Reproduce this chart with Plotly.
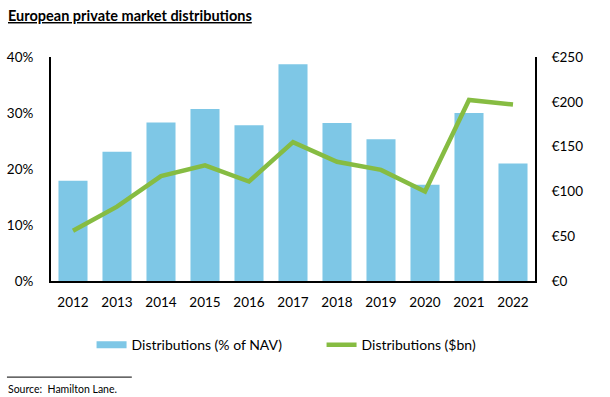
import plotly.graph_objects as go

years = ["2012", "2013", "2014", "2015", "2016", "2017", "2018", "2019", "2020", "2021", "2022"]
pct_nav = [17.9, 23.1, 28.3, 30.7, 27.8, 38.7, 28.2, 25.3, 17.2, 30.0, 21.0]
dist_bn = [56, 83, 117, 129, 111, 155, 133, 124, 100, 202, 197]

left_ticks = [0, 10, 20, 30, 40]
left_labels = ["0%", "10%", "20%", "30%", "40%"]
right_ticks = [0, 50, 100, 150, 200, 250]
right_labels = ["€0", "€50", "€100", "€150", "€200", "€250"]

FONT = "Lato, 'Open Sans', sans-serif"
BAR_COLOR = "#7EC7E6"
LINE_COLOR = "#86BC42"

fig = go.Figure()
fig.add_trace(go.Bar(
    x=years, y=pct_nav, name="Distributions (% of NAV)",
    marker=dict(color=BAR_COLOR, line=dict(width=0)),
    width=0.66, yaxis="y", showlegend=False,
))
# legend proxy with wide rectangular swatch for the bars
fig.add_trace(go.Scatter(
    x=[None], y=[None], name="Distributions (% of NAV)", mode="lines",
    line=dict(color=BAR_COLOR, width=7), yaxis="y", hoverinfo="skip",
))
fig.add_trace(go.Scatter(
    x=years, y=dist_bn, name="Distributions ($bn)", mode="lines",
    line=dict(color=LINE_COLOR, width=4.5), yaxis="y2",
))

fig.update_layout(
    width=610, height=397,
    paper_bgcolor="white", plot_bgcolor="white",
    margin=dict(l=51, r=75, t=57, b=116, autoexpand=False),
    font=dict(family=FONT, size=13, color="#000"),
    showlegend=True,
    legend=dict(orientation="h", x=0.559, xanchor="center", y=-0.215, yanchor="top",
                font=dict(size=14), itemwidth=30, traceorder="normal",
                entrywidth=185, entrywidthmode="pixels"),
    xaxis=dict(showline=True, linecolor="black", linewidth=2, ticks="", showgrid=False,
               tickfont=dict(size=13.5), ticklabelstandoff=8, automargin=False),
    yaxis=dict(range=[0, 40], tickvals=left_ticks, ticktext=left_labels, showgrid=False,
               showline=True, linecolor="black", linewidth=2, ticks="", zeroline=False,
               tickfont=dict(size=13.5), ticklabelstandoff=13, automargin=False),
    yaxis2=dict(range=[0, 250], tickvals=right_ticks, ticktext=right_labels, overlaying="y",
                side="right", showgrid=False, showline=True, linecolor="black", linewidth=2,
                ticks="", zeroline=False, tickfont=dict(size=13.5), ticklabelstandoff=12,
                automargin=False),
)

fig.add_annotation(text="<b><u>European private market distributions</u></b>", xref="paper", yref="paper",
                   x=-0.093, y=1.23, xanchor="left", yanchor="top", showarrow=False,
                   font=dict(size=14.5, color="#000", family=FONT))
fig.add_annotation(text="Source:  Hamilton Lane.", xref="paper", yref="paper",
                   x=-0.093, y=-0.48, xanchor="left", yanchor="middle", showarrow=False,
                   font=dict(size=10.5, color="#000", family=FONT))
fig.add_shape(type="line", xref="paper", yref="paper", x0=-0.091, x1=0.167, y0=-0.429, y1=-0.429,
              line=dict(color="black", width=1))

fig.write_html("out.html", config={"displayModeBar": False},
               post_script="document.body.style.margin='0';document.body.style.overflow='hidden';")
